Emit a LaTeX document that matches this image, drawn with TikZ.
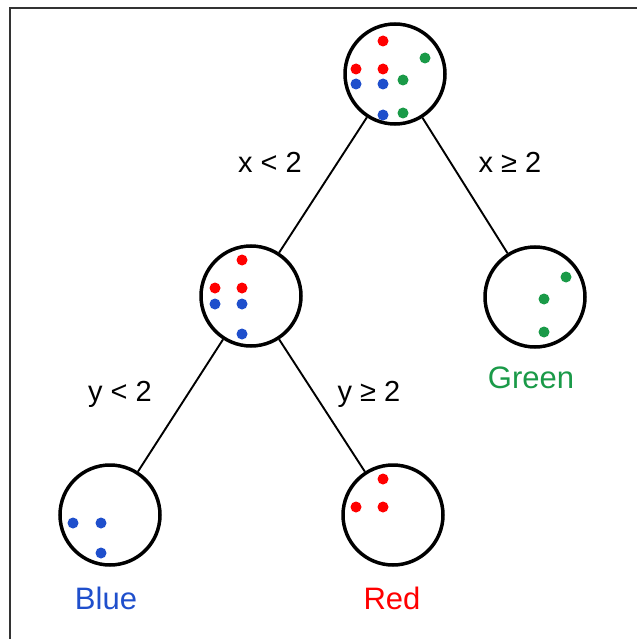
\documentclass[tikz,border=0pt]{standalone}
\usepackage{fontspec}
\setmainfont{Liberation Sans}
\definecolor{dotred}{HTML}{FF0000}
\definecolor{dotblue}{HTML}{1F4FCC}
\definecolor{dotgreen}{HTML}{1A9A48}
\definecolor{framegray}{HTML}{333333}
\begin{document}
\begin{tikzpicture}[x=1pt,y=-1pt,
  tnode/.style={circle,draw=black,line width=3.5pt,minimum size=100pt,inner sep=0pt},
  edge/.style={draw=black,line width=1.9pt},
  elabel/.style={anchor=base,font=\fontsize{29}{33}\selectfont,inner sep=0pt},
  llabel/.style={anchor=base,font=\fontsize{31}{36}\selectfont,inner sep=0pt},
  rdot/.style={fill=dotred},
  bdot/.style={fill=dotblue},
  gdot/.style={fill=dotgreen}]
\useasboundingbox (0,0) rectangle (637,639);
\fill[white] (0,0) rectangle (637,639);
\draw[framegray,line width=1.5pt] (10,639) -- (10,8) -- (637,8);

\node[tnode] (root) at (395,74) {};
\node[tnode] (mid) at (251,296) {};
\node[tnode] (green) at (535,297) {};
\node[tnode] (blue) at (110,515) {};
\node[tnode] (red) at (393,515) {};

\draw[edge] (root) -- (mid);
\draw[edge] (root) -- (green);
\draw[edge] (mid) -- (blue);
\draw[edge] (mid) -- (red);

\node[elabel] (lxl) at (270,172) {x < 2};
\node[elabel] (lxg) at (510,172) {x ≥ 2};
\node[elabel] (lyl) at (120,401) {y < 2};
\node[elabel] (lyg) at (369,401) {y ≥ 2};

\node[llabel,text=dotgreen] (tgreen) at (531,388) {Green};
\node[llabel,text=dotblue] (tblue) at (106,609) {Blue};
\node[llabel,text=dotred] (tred) at (392,609) {Red};

% root dots
\foreach \p in {(383,41),(356,69),(383,69)} \fill[rdot] \p circle (5.5pt);
\foreach \p in {(425,58),(403,80),(403,113)} \fill[gdot] \p circle (5.5pt);
\foreach \p in {(356,84),(383,84),(383,115)} \fill[bdot] \p circle (5.5pt);
% mid dots
\foreach \p in {(242,260),(215,288),(242,288)} \fill[rdot] \p circle (5.5pt);
\foreach \p in {(215,304),(242,304),(242,334)} \fill[bdot] \p circle (5.5pt);
% leaf dots
\foreach \p in {(73,523),(101,523),(101,553)} \fill[bdot] \p circle (5.5pt);
\foreach \p in {(383,479),(356,507),(383,507)} \fill[rdot] \p circle (5.5pt);
\foreach \p in {(566,277),(544,299),(544,332)} \fill[gdot] \p circle (5.5pt);
\end{tikzpicture}
\end{document}
